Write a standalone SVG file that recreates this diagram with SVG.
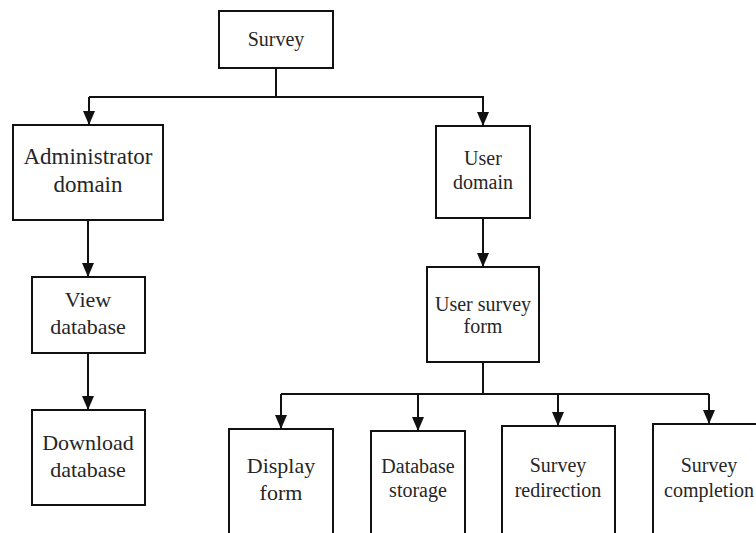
<svg xmlns="http://www.w3.org/2000/svg" width="756" height="533" viewBox="0 0 756 533">
  <style>
    .box { fill: #ffffff; stroke: #111111; stroke-width: 2; }
    .line { fill: none; stroke: #111111; stroke-width: 2; }
    .lbl { font-family: "Liberation Serif", "Times New Roman", serif; fill: #262626; text-anchor: middle; }
    .s20 { font-size: 20px; }
    .s22 { font-size: 22px; }
    .s23 { font-size: 23px; }
  </style>
  <defs>
    <marker id="head" viewBox="0 0 14 12" refX="14" refY="6" markerWidth="14" markerHeight="12" markerUnits="userSpaceOnUse" orient="auto">
      <path d="M0,0 L14,6 L0,12 Z" fill="#111111"/>
    </marker>
  </defs>

  <g id="connectors">
    <path class="line" d="M276,68 V97 M89,97 H484" />
    <path class="line" d="M89,97 V125" marker-end="url(#head)"/>
    <path class="line" d="M483,97 V126" marker-end="url(#head)"/>
    <path class="line" d="M88,220 V277" marker-end="url(#head)"/>
    <path class="line" d="M88,353 V410" marker-end="url(#head)"/>
    <path class="line" d="M483,218 V267" marker-end="url(#head)"/>
    <path class="line" d="M483,362 V394 M281,394 H709" />
    <path class="line" d="M281,394 V429" marker-end="url(#head)"/>
    <path class="line" d="M418,394 V431" marker-end="url(#head)"/>
    <path class="line" d="M558,394 V426" marker-end="url(#head)"/>
    <path class="line" d="M709,394 V424" marker-end="url(#head)"/>
  </g>

  <g id="survey">
    <rect class="box" x="219" y="11" width="114" height="57"/>
    <text class="lbl s20" x="276" y="46">Survey</text>
  </g>
  <g id="admin-domain">
    <rect class="box" x="13" y="125" width="150" height="95"/>
    <text class="lbl s23" x="88" y="164">Administrator</text>
    <text class="lbl s23" x="88" y="192">domain</text>
  </g>
  <g id="user-domain">
    <rect class="box" x="436" y="126" width="94" height="92"/>
    <text class="lbl s20" x="483" y="165">User</text>
    <text class="lbl s20" x="483" y="189">domain</text>
  </g>
  <g id="view-database">
    <rect class="box" x="32" y="277" width="113" height="76"/>
    <text class="lbl s22" x="88" y="307">View</text>
    <text class="lbl s22" x="88" y="334">database</text>
  </g>
  <g id="download-database">
    <rect class="box" x="32" y="410" width="113" height="95"/>
    <text class="lbl s22" x="88" y="450">Download</text>
    <text class="lbl s22" x="88" y="477">database</text>
  </g>
  <g id="user-survey-form">
    <rect class="box" x="427" y="267" width="112" height="95"/>
    <text class="lbl s20" x="483" y="311">User survey</text>
    <text class="lbl s20" x="483" y="333">form</text>
  </g>
  <g id="display-form">
    <rect class="box" x="229" y="429" width="104" height="110"/>
    <text class="lbl s22" x="281" y="473">Display</text>
    <text class="lbl s22" x="281" y="500">form</text>
  </g>
  <g id="database-storage">
    <rect class="box" x="371" y="431" width="94" height="110"/>
    <text class="lbl s20" x="418" y="473">Database</text>
    <text class="lbl s20" x="418" y="497">storage</text>
  </g>
  <g id="survey-redirection">
    <rect class="box" x="502" y="426" width="113" height="110"/>
    <text class="lbl s20" x="558" y="472">Survey</text>
    <text class="lbl s20" x="558" y="497">redirection</text>
  </g>
  <g id="survey-completion">
    <rect class="box" x="653" y="424" width="113" height="112"/>
    <text class="lbl s20" x="709" y="472">Survey</text>
    <text class="lbl s20" x="709" y="497">completion</text>
  </g>
</svg>
